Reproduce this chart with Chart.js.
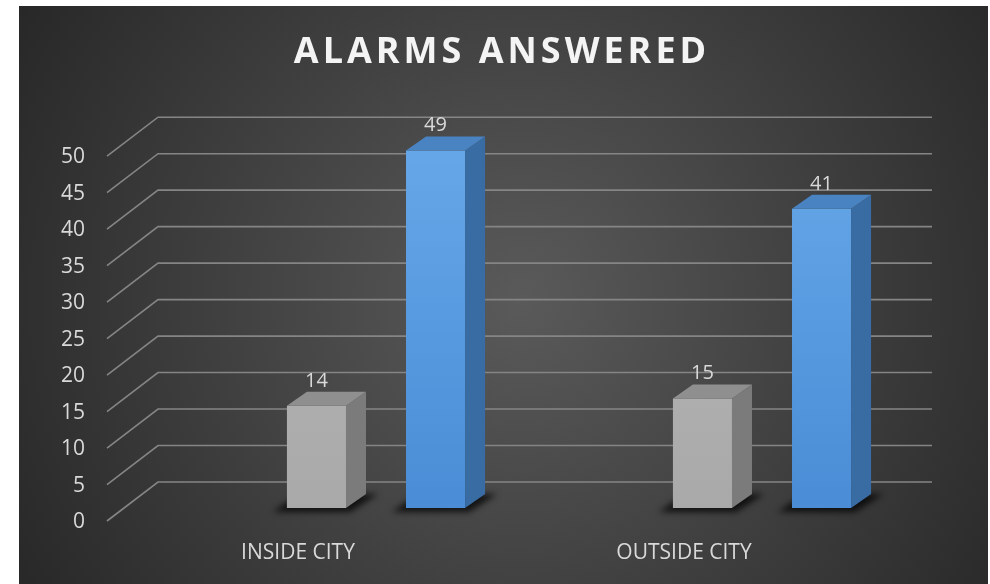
<!DOCTYPE html>
<html><head><meta charset="utf-8">
<script src="https://cdn.jsdelivr.net/npm/chart.js@4.4.1/dist/chart.umd.min.js"></script>
<style>html,body{margin:0;padding:0;background:#fff;overflow:hidden}canvas{display:block}</style>
</head><body>
<canvas id="c" width="990" height="584"></canvas>
<script>
// ---- data ----
const chartTitle = 'ALARMS ANSWERED';
const categories = ['INSIDE CITY', 'OUTSIDE CITY'];
const seriesGray = [14, 15];
const seriesBlue = [49, 41];
const yMin = 0, yMax = 50, yStep = 5;

// ---- 3D look ----
const DX = 20, DY = 14;
const faceColors = [
  { top: '#8f8f8f', side: '#7b7b7b', shadow: 'rgba(0,0,0,0.75)' },
  { top: '#4a83c2', side: '#3a6ca4', shadow: 'rgba(0,0,0,0.75)' }
];

const threeD = {
  id: 'threeD',
  beforeDraw(chart) {
    const ctx = chart.ctx;
    ctx.save();
    ctx.fillStyle = '#ffffff';
    ctx.fillRect(0, 0, chart.width, chart.height);
    const g = ctx.createRadialGradient(520, 300, 0, 520, 300, 600);
    g.addColorStop(0, '#5a5a5a');
    g.addColorStop(1, '#262626');
    ctx.fillStyle = g;
    ctx.fillRect(19, 6, 969, 578);
    ctx.restore();
    ctx.letterSpacing = '4px';
  },
  beforeDatasetsDraw(chart) {
    const ctx = chart.ctx;
    ctx.letterSpacing = '0px';
    const y = chart.scales.y, a = chart.chartArea;
    ctx.save();
    ctx.strokeStyle = '#858585';
    ctx.lineWidth = 1.6;
    y.ticks.forEach(t => {
      const yf = y.getPixelForValue(t.value);
      ctx.beginPath();
      ctx.moveTo(a.left - 76, yf + 13);
      ctx.lineTo(a.left - 25, yf - 26);
      ctx.lineTo(a.right - 23, yf - 26);
      ctx.stroke();
    });
    chart.data.datasets.forEach((ds, i) => {
      const meta = chart.getDatasetMeta(i);
      meta.data.forEach(bar => {
        const p = bar.getProps(['x', 'base', 'width'], true);
        const xl = p.x - p.width / 2, xr = p.x + p.width / 2, b = p.base;
        ctx.save();
        ctx.filter = 'blur(3px)';
        ctx.fillStyle = faceColors[i].shadow;
        ctx.beginPath();
        ctx.moveTo(xl - 14, b + 4);
        ctx.lineTo(xr + 4, b + 4);
        ctx.lineTo(xr + DX + 12, b - DY);
        ctx.lineTo(xl + DX - 8, b - DY);
        ctx.closePath();
        ctx.fill();
        ctx.restore();
      });
    });
    ctx.restore();
  },
  afterDatasetsDraw(chart) {
    const ctx = chart.ctx;
    ctx.save();
    chart.data.datasets.forEach((ds, i) => {
      const meta = chart.getDatasetMeta(i);
      meta.data.forEach((bar, j) => {
        const p = bar.getProps(['x', 'y', 'base', 'width'], true);
        const xl = p.x - p.width / 2, xr = p.x + p.width / 2;
        ctx.fillStyle = faceColors[i].side;
        ctx.beginPath();
        ctx.moveTo(xr, p.y);
        ctx.lineTo(xr + DX, p.y - DY);
        ctx.lineTo(xr + DX, p.base - DY);
        ctx.lineTo(xr, p.base);
        ctx.closePath();
        ctx.fill();
        ctx.fillStyle = faceColors[i].top;
        ctx.beginPath();
        ctx.moveTo(xl, p.y);
        ctx.lineTo(xl + DX, p.y - DY);
        ctx.lineTo(xr + DX, p.y - DY);
        ctx.lineTo(xr, p.y);
        ctx.closePath();
        ctx.fill();
        ctx.fillStyle = '#d9d9d9';
        ctx.font = '20px "Open Sans"';
        ctx.textAlign = 'center';
        ctx.textBaseline = 'middle';
        ctx.fillText(String(ds.data[j]), p.x, p.y - 25);
      });
    });
    ctx.restore();
  }
};

function vGrad(c, top, bottom, fallback) {
  const a = c.chart.chartArea;
  if (!a) return fallback;
  const g = c.chart.ctx.createLinearGradient(0, a.top, 0, a.bottom);
  g.addColorStop(0, top);
  g.addColorStop(1, bottom);
  return g;
}

const tickFont = { family: 'Open Sans', size: 21 };

new Chart(document.getElementById('c'), {
  type: 'bar',
  data: {
    labels: categories,
    datasets: [
      { label: 'Series 1', data: seriesGray, backgroundColor: c => vGrad(c, '#b9b9b9', '#a9a9a9', '#b0b0b0'),
        categoryPercentage: 0.617, barPercentage: 0.496, borderWidth: 0 },
      { label: 'Series 2', data: seriesBlue, backgroundColor: c => vGrad(c, '#66a7e8', '#4a8dd6', '#5698dc'),
        categoryPercentage: 0.617, barPercentage: 0.496, borderWidth: 0 }
    ]
  },
  options: {
    responsive: false,
    animation: false,
    devicePixelRatio: 1,
    layout: { padding: { left: 49, right: 35, top: 0, bottom: 6 } },
    plugins: {
      legend: { display: false },
      tooltip: { enabled: false },
      title: {
        display: true, text: chartTitle, color: '#f4f4f4',
        font: { family: 'Open Sans', size: 36, weight: 'bold' },
        padding: { top: 31, bottom: 69 }
      }
    },
    scales: {
      x: {
        grid: { display: false }, border: { display: false },
        ticks: { z: 1, color: '#d9d9d9', font: tickFont, padding: 24, labelOffset: -78, maxRotation: 0, autoSkip: false },
        afterFit(s) { s.height = 70; }
      },
      y: {
        min: yMin, max: yMax,
        grid: { display: false }, border: { display: false },
        ticks: { z: 1, stepSize: yStep, autoSkip: false, color: '#d9d9d9', font: tickFont, padding: 90, labelOffset: 14 },
        afterFit(s) { s.width = 134; s.paddingTop = 12; s.paddingBottom = 12; }
      }
    }
  },
  plugins: [threeD]
});
</script>
</body></html>
